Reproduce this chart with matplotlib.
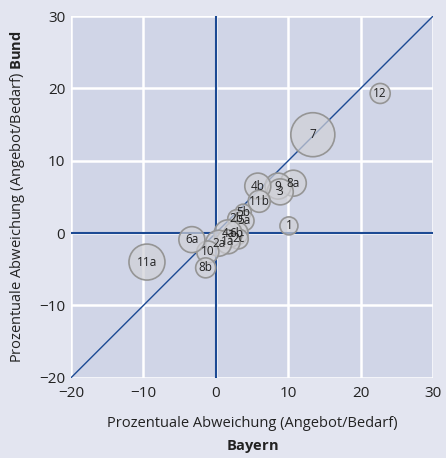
import matplotlib
matplotlib.use("Agg")
import matplotlib.pyplot as plt
import numpy as np

labels = ["12", "7", "8a", "9", "3", "4b", "11b", "1", "5b", "2b", "5a", "6b", "2c",
          "4a", "1a", "2a", "10", "8b", "6a", "11a"]
bayern = [22.7, 13.4, 10.7, 8.6, 8.9, 5.8, 6.0, 10.1, 3.8, 2.9, 3.9, 2.8, 3.1,
          1.7, 1.7, 0.4, -1.1, -1.4, -3.3, -9.5]
bund = [19.3, 13.6, 6.9, 6.5, 5.7, 6.5, 4.4, 1.0, 2.9, 2.0, 1.7, 0.0, -0.8,
        -0.1, -1.2, -1.4, -2.6, -4.8, -0.9, -4.0]
radius = [10, 22, 13, 13, 13, 13, 11, 9, 8, 9, 10, 12, 10,
          14, 12, 13, 11, 10, 13, 18]

xticks = [-20, -10, 0, 10, 20, 30]
yticks = [-20, -10, 0, 10, 20, 30]

plt.rcParams['font.family'] = ['Open Sans', 'DejaVu Sans']
plt.rcParams['mathtext.fontset'] = 'custom'
plt.rcParams['mathtext.bf'] = 'Open Sans:bold'
plt.rcParams['mathtext.rm'] = 'Open Sans'

fig = plt.figure(figsize=(4.46, 4.58), dpi=100, facecolor='#e3e5f0')
ax = fig.add_axes([0.159, 0.175, 0.812, 0.790])
ax.set_facecolor('#d0d5e7')

ax.set_xlim(-20, 30)
ax.set_ylim(-20, 30)
ax.set_xticks(xticks)
ax.set_yticks(yticks)
ax.set_xticklabels([str(t).replace('-', '\u2212') for t in xticks])
ax.set_yticklabels([str(t).replace('-', '\u2212') for t in yticks])
ax.grid(True, color='white', linewidth=1.8)
ax.set_axisbelow(True)
for s in ax.spines.values():
    s.set_visible(False)
ax.tick_params(axis='x', length=0, labelsize=11, colors='#222222', pad=6)
ax.tick_params(axis='y', length=0, labelsize=11, colors='#222222', pad=4)

blue = '#1c4a94'
ax.axhline(0, color=blue, lw=1.5, zorder=1.5)
ax.axvline(0, color=blue, lw=1.5, zorder=1.5)
ax.plot([-20, 30], [-20, 30], color=blue, lw=1.0, zorder=1.6)

sizes = [(2 * r * 0.72) ** 2 for r in radius]
ax.scatter(bayern, bund, s=sizes, facecolor=(0.82, 0.82, 0.84, 0.7),
           edgecolor='#959595', linewidth=1.2, zorder=3, clip_on=False)
for lab, xv, yv in zip(labels, bayern, bund):
    ax.text(xv, yv, lab, ha='center', va='center', fontsize=8.5,
            color='#222222', zorder=4)

ax.set_xlabel('Prozentuale Abweichung (Angebot/Bedarf)\n$\\bf{Bayern}$',
              fontsize=10.5, color='#222222', labelpad=11, linespacing=1.55)
ax.set_ylabel('Prozentuale Abweichung (Angebot/Bedarf) $\\bf{Bund}$',
              fontsize=10.5, color='#222222', labelpad=9)

fig.savefig('out.png', dpi=100, facecolor=fig.get_facecolor())
